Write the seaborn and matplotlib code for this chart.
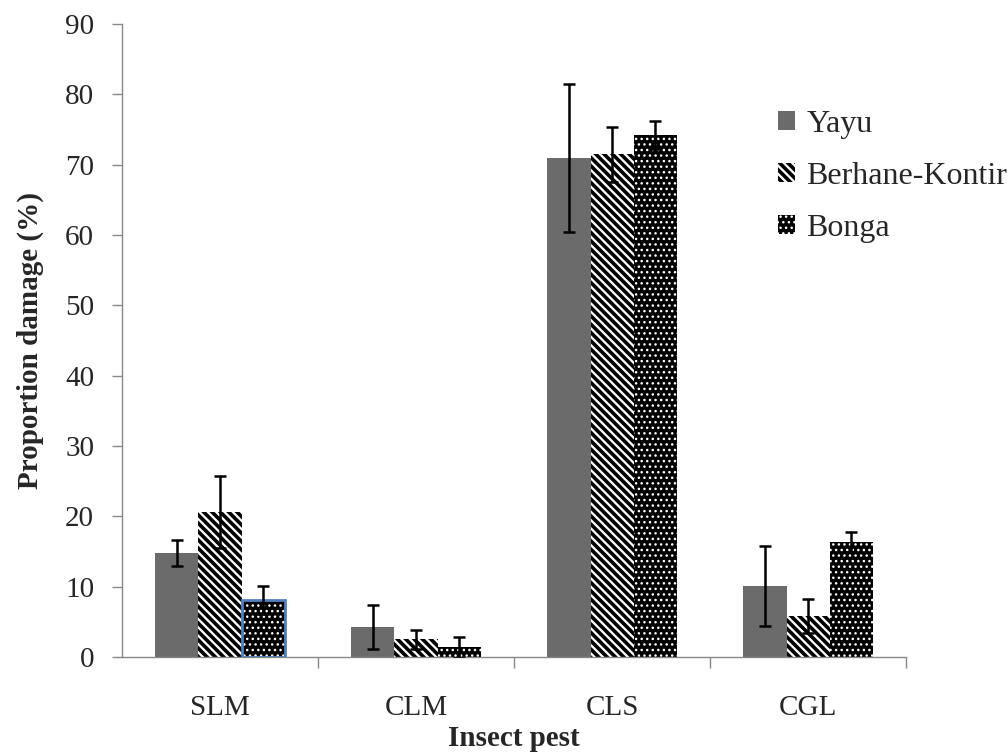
import matplotlib
matplotlib.use("Agg")
import matplotlib.pyplot as plt
import seaborn as sns
import pandas as pd
import numpy as np
from matplotlib.patches import Patch

pests = ["SLM", "CLM", "CLS", "CGL"]
sites = ["Yayu", "Berhane-Kontir", "Bonga"]
yayu = [14.8, 4.3, 71.0, 10.1]
berhane = [20.6, 2.5, 71.5, 5.8]
bonga = [8.1, 1.4, 74.2, 16.4]
yayu_err = [1.8, 3.1, 10.5, 5.7]
berhane_err = [5.1, 1.3, 3.9, 2.4]
bonga_err = [2.0, 1.5, 2.0, 1.4]

values = {"Yayu": yayu, "Berhane-Kontir": berhane, "Bonga": bonga}
errors = {"Yayu": yayu_err, "Berhane-Kontir": berhane_err, "Bonga": bonga_err}

rows = []
for s in sites:
    for p, v in zip(pests, values[s]):
        rows.append({"pest": p, "site": s, "value": v})
df = pd.DataFrame(rows)

sns.set_theme(style="white")
plt.rcParams["font.family"] = ["Liberation Serif", "DejaVu Serif"]
plt.rcParams["hatch.linewidth"] = 2.6

STRIPE = "\\\\\\\\"
DOTS = "..."

fig = plt.figure(figsize=(10.08, 7.54), dpi=100)
ax = fig.add_axes([0.121, 0.1286, 0.778, 0.8395])

palette = {"Yayu": "#6b6b6b", "Berhane-Kontir": "white", "Bonga": "black"}
sns.barplot(data=df, x="pest", y="value", hue="site", order=pests,
            hue_order=sites, palette=palette, errorbar=None, width=0.66,
            ax=ax, legend=False, saturation=1)

containers = ax.containers
hatches = {"Yayu": None, "Berhane-Kontir": STRIPE, "Bonga": DOTS}
hatch_lw = {"Yayu": 1.0, "Berhane-Kontir": 2.6, "Bonga": 1.0}
edgec = {"Yayu": "#6b6b6b", "Berhane-Kontir": "black", "Bonga": "white"}
for s, cont in zip(sites, containers):
    xs = []
    hs = []
    for bar in cont:
        bar.set_linewidth(0)
        bar.set_edgecolor(edgec[s])
        if hatches[s]:
            bar.set_hatch(hatches[s])
            if hasattr(bar, "set_hatch_linewidth"):
                bar.set_hatch_linewidth(hatch_lw[s])
        xs.append(bar.get_x() + bar.get_width() / 2)
        hs.append(bar.get_height())
    ax.errorbar(xs, hs, yerr=errors[s], fmt="none", ecolor="black",
                elinewidth=1.8, capsize=4.5, capthick=1.8, zorder=5)

# highlighted (selected) bar outline for SLM Bonga
b0 = containers[2][0]
ax.bar(b0.get_x() + b0.get_width() / 2, bonga[0], width=b0.get_width(),
       fill=False, edgecolor="#4f81bd", linewidth=2, zorder=4)

ax.set_xlim(-0.5, 3.5)
ax.set_ylim(0, 90)
ax.set_yticks(np.arange(0, 91, 10))
ax.tick_params(axis="y", which="both", left=True, length=7, width=1,
               color="#888888", labelsize=21, pad=13)
ax.set_xticks(range(4))
ax.set_xticklabels(pests)
ax.tick_params(axis="x", bottom=False, labelsize=21, pad=21)
ax.set_xticks([0.5, 1.5, 2.5, 3.5], minor=True)
ax.tick_params(axis="x", which="minor", bottom=True, length=8, width=1,
               color="#888888")

for sp in ["top", "right"]:
    ax.spines[sp].set_visible(False)
for sp in ["left", "bottom"]:
    ax.spines[sp].set_color("#888888")
    ax.spines[sp].set_linewidth(1)

ax.set_ylabel("Proportion damage (%)", fontsize=21, fontweight="bold", labelpad=15)
ax.set_xlabel("Insect pest", fontsize=21, fontweight="bold", labelpad=3)

handles = [
    Patch(facecolor="#6b6b6b", edgecolor="#6b6b6b", linewidth=0),
    Patch(facecolor="white", edgecolor="black", hatch=STRIPE, linewidth=0),
    Patch(facecolor="black", edgecolor="white", hatch=DOTS, linewidth=0),
]
leg = ax.legend(handles, sites, loc="upper left", bbox_to_anchor=(0.82, 0.885),
                frameon=False, fontsize=23, handlelength=0.55, handleheight=0.55,
                handletextpad=0.35, labelspacing=0.72, borderaxespad=0)
for h, s in zip(leg.legend_handles, sites):
    if hatches[s] and hasattr(h, "set_hatch_linewidth"):
        h.set_hatch_linewidth(hatch_lw[s])

fig.savefig("out.png", dpi=100)
